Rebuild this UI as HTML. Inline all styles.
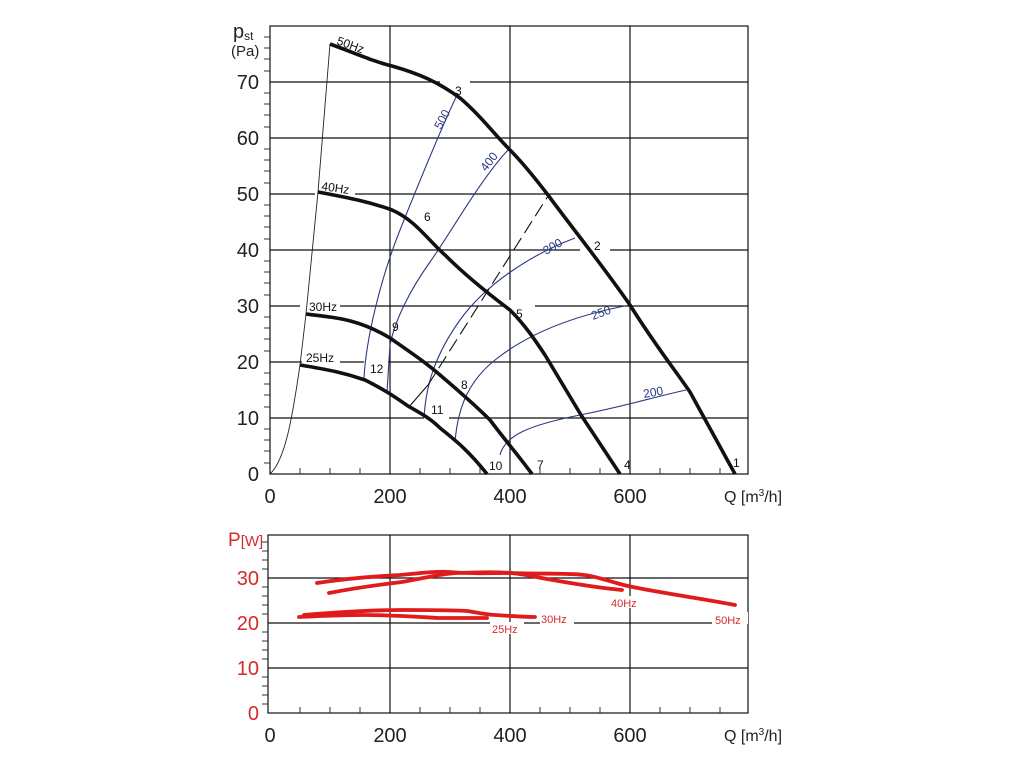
<!DOCTYPE html>
<html><head><meta charset="utf-8"><style>
html,body{margin:0;padding:0;background:#fff;}
svg{display:block;font-family:"Liberation Sans",sans-serif;}
</style></head><body>
<svg width="1024" height="768" viewBox="0 0 1024 768" xmlns="http://www.w3.org/2000/svg">
<!-- main grid -->
<g stroke="#111" stroke-width="1.2" fill="none">
<rect x="270" y="26" width="478" height="448"/>
<line x1="390" y1="26" x2="390" y2="474"/><line x1="510" y1="26" x2="510" y2="474"/><line x1="630" y1="26" x2="630" y2="474"/>
<line x1="270" y1="82" x2="748" y2="82"/><line x1="270" y1="138" x2="748" y2="138"/><line x1="270" y1="194" x2="748" y2="194"/>
<line x1="270" y1="250" x2="748" y2="250"/><line x1="270" y1="306" x2="748" y2="306"/><line x1="270" y1="362" x2="748" y2="362"/>
<line x1="270" y1="418" x2="748" y2="418"/>
</g>
<g stroke="#333" stroke-width="1">
<path d="M264 463H270M264 451H270M264 440H270M264 429H270M264 407H270M264 395H270M264 384H270M264 373H270M264 351H270M264 339H270M264 328H270M264 317H270M264 295H270M264 283H270M264 272H270M264 261H270M264 239H270M264 227H270M264 216H270M264 205H270M264 183H270M264 171H270M264 160H270M264 149H270M264 127H270M264 115H270M264 104H270M264 93H270M264 71H270M264 59H270M264 48H270M264 37H270"/>
<path d="M300 474V468M330 474V468M360 474V468M420 474V468M450 474V468M480 474V468M540 474V468M570 474V468M600 474V468M660 474V468M690 474V468M720 474V468"/>
</g>
<g font-size="20" fill="#222" text-anchor="end">
<text x="259" y="89">70</text><text x="259" y="145">60</text><text x="259" y="201">50</text><text x="259" y="257">40</text>
<text x="259" y="313">30</text><text x="259" y="369">20</text><text x="259" y="425">10</text><text x="259" y="481">0</text>
</g>
<text x="233" y="38" font-size="20" fill="#222">p<tspan font-size="12" dy="2">st</tspan></text>
<text x="231" y="56" font-size="15" fill="#222">(Pa)</text>
<g font-size="20" fill="#222" text-anchor="middle">
<text x="270" y="503">0</text><text x="390" y="503">200</text><text x="510" y="503">400</text><text x="630" y="503">600</text>
</g>
<text x="724" y="502" font-size="16" fill="#222">Q [m<tspan font-size="10" dy="-6">3</tspan><tspan dy="6">/h]</tspan></text>
<!-- label backgrounds -->
<g fill="#fff">
<rect x="440" y="76" width="30" height="12"/><rect x="580" y="244" width="30" height="12"/><rect x="505" y="300" width="30" height="12"/>
<rect x="300" y="300" width="40" height="12"/><rect x="302" y="356" width="38" height="12"/><rect x="364" y="358" width="24" height="12"/>
<rect x="315" y="182" width="40" height="14"/><rect x="424" y="405" width="25" height="14"/>
</g>
<!-- blue curves -->
<g stroke="#2a3a80" stroke-width="1.1" fill="none">
<path d="M364 378 C366 340 380 280 400 230 S445 120 458 93"/>
<path d="M387 392 L390 345 C395 320 410 290 430 262 S480 180 508 150"/>
<path d="M424 417 C426 385 435 355 460 320 S530 255 575 238"/>
<path d="M455 442 C458 405 470 380 495 360 S560 318 630 305"/>
<path d="M500 455 C505 435 530 425 580 415 S650 398 686 390"/>
</g>
<g font-size="12" fill="#2a3a80">
<text x="441" y="130" transform="rotate(-62 441 130)" fill="#2a3a80">500</text>
<text x="486" y="172" transform="rotate(-52 486 172)">400</text>
<text x="546" y="255" transform="rotate(-30 546 255)">300</text>
<text x="593" y="320" transform="rotate(-20 593 320)">250</text>
<text x="644" y="398" transform="rotate(-10 644 398)">200</text>
</g>
<!-- system curve & dashed -->
<path d="M270 474 C285 460 292 420 300 365 L306 314 L318 192 L330 44" stroke="#222" stroke-width="0.9" fill="none"/>
<path d="M408 408 L428 385" stroke="#111" stroke-width="1.1"/>
<path d="M428 385 L548 196" stroke="#111" stroke-width="1.1" stroke-dasharray="14 6"/>
<!-- black curves -->
<g stroke="#111" stroke-width="3.6" fill="none" stroke-linejoin="round">
<path d="M330 44 C360 55 375 62 392 66 C420 74 438 82 460 98 C480 115 495 135 510 150 C525 165 538 182 548 195 C570 225 600 262 630 305 C655 345 675 370 690 392 L735 474"/>
<path d="M318 192 C350 198 370 202 392 210 C415 220 428 240 445 255 C465 275 490 295 510 310 C525 325 535 340 545 355 C560 380 575 405 581 415 L620 474"/>
<path d="M306 314 C340 318 360 320 390 338 C410 352 425 362 440 375 C460 392 475 405 490 420 C505 440 518 455 532 474"/>
<path d="M300 365 C330 370 345 373 365 380 C385 390 395 397 408 406 C420 413 430 418 440 428 C455 440 468 450 487 474"/>
</g>
<g font-size="12" fill="#111">
<text x="733" y="467">1</text><text x="594" y="250">2</text><text x="455" y="95">3</text><text x="624" y="469">4</text>
<text x="516" y="318">5</text><text x="424" y="221">6</text><text x="537" y="469">7</text><text x="461" y="389">8</text>
<text x="392" y="331">9</text><text x="489" y="470">10</text><text x="431" y="414">11</text><text x="370" y="373">12</text>
<text x="336" y="44" transform="rotate(20 336 44)">50Hz</text>
<text x="321" y="190" transform="rotate(8 321 190)">40Hz</text>
<text x="309" y="311">30Hz</text><text x="306" y="362">25Hz</text>
</g>
<!-- power chart -->
<g stroke="#111" stroke-width="1.2" fill="none">
<rect x="268" y="535" width="480" height="178"/>
<line x1="390" y1="535" x2="390" y2="713"/><line x1="510" y1="535" x2="510" y2="713"/><line x1="630" y1="535" x2="630" y2="713"/>
<line x1="268" y1="578" x2="748" y2="578"/><line x1="268" y1="623" x2="748" y2="623"/><line x1="268" y1="668" x2="748" y2="668"/>
</g>
<g stroke="#333" stroke-width="1">
<path d="M262 704H268M262 695H268M262 686H268M262 677H268M262 659H268M262 650H268M262 641H268M262 632H268M262 614H268M262 605H268M262 596H268M262 587H268M262 569H268M262 560H268M262 551H268M262 542H268"/>
<path d="M300 713V707M330 713V707M360 713V707M420 713V707M450 713V707M480 713V707M540 713V707M570 713V707M600 713V707M660 713V707M690 713V707M720 713V707"/>
</g>
<g fill="#fff"><rect x="540" y="612" width="34" height="12"/><rect x="712" y="612" width="36" height="12"/><rect x="490" y="622" width="34" height="12"/><rect x="608" y="596" width="34" height="12"/></g>
<g font-size="20" fill="#d42a2a" text-anchor="end">
<text x="259" y="585">30</text><text x="259" y="630">20</text><text x="259" y="675">10</text><text x="259" y="720">0</text>
</g>
<text x="228" y="546" font-size="19" fill="#d42a2a">P<tspan font-size="15">[W]</tspan></text>
<g font-size="20" fill="#222" text-anchor="middle">
<text x="270" y="742">0</text><text x="390" y="742">200</text><text x="510" y="742">400</text><text x="630" y="742">600</text>
</g>
<text x="724" y="741" font-size="16" fill="#222">Q [m<tspan font-size="10" dy="-6">3</tspan><tspan dy="6">/h]</tspan></text>
<g stroke="#e01b1b" stroke-width="3.8" fill="none" stroke-linecap="round">
<path d="M317 583 C350 578 380 576 400 575 C420 573 440 571 449 572 C470 574 490 573 511 573 C540 574 570 573 584 575 C595 576 605 580 620 584 C640 590 700 598 735 605"/>
<path d="M329 593 C360 587 385 584 402 582 C425 578 440 574 456 573 C480 572 500 572 511 573 C530 575 540 578 547 579 C575 584 600 588 622 590"/>
<path d="M304 615 C340 612 370 610 402 610 C430 610 455 610 467 611 C480 613 490 615 496 615 C510 616 525 617 535 617"/>
<path d="M299 617 C320 616 340 615 365 615 C395 615 420 617 438 618 C455 618 470 618 487 618"/>
</g>
<g font-size="11" fill="#d42a2a">
<text x="611" y="607">40Hz</text><text x="715" y="624">50Hz</text><text x="541" y="623">30Hz</text><text x="492" y="633">25Hz</text>
</g>
</svg>
</body></html>
